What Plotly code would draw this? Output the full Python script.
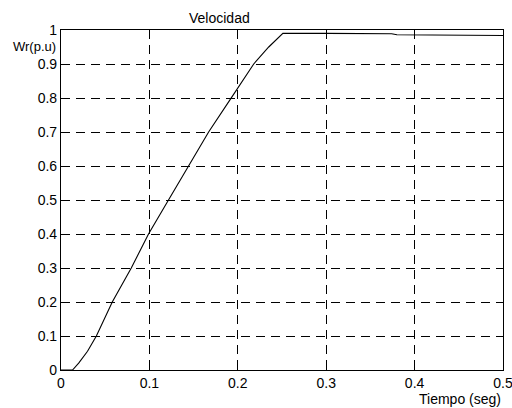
import plotly.graph_objects as go

# Data
tiempo = [0.0, 0.013, 0.02, 0.03, 0.04, 0.058, 0.0795, 0.099, 0.1216, 0.144, 0.167, 0.19, 0.2,
          0.218, 0.235, 0.251, 0.30, 0.374, 0.38, 0.45, 0.5]
velocidad = [0.0, 0.0, 0.02, 0.055, 0.1, 0.2, 0.3, 0.4, 0.5, 0.6, 0.7, 0.79, 0.83,
             0.9, 0.95, 0.99, 0.99, 0.989, 0.986, 0.985, 0.984]
x_ticks = [0, 0.1, 0.2, 0.3, 0.4, 0.5]
x_tick_labels = ["0", "0.1", "0.2", "0.3", "0.4", "0.5"]
y_ticks = [0, 0.1, 0.2, 0.3, 0.4, 0.5, 0.6, 0.7, 0.8, 0.9, 1]
y_tick_labels = ["0", "0.1", "0.2", "0.3", "0.4", "0.5", "0.6", "0.7", "0.8", "0.9", "1"]

font = "Liberation Sans, Arial, sans-serif"

fig = go.Figure()
fig.add_trace(go.Scatter(x=tiempo, y=velocidad, mode="lines",
                         line=dict(color="black", width=1.1), showlegend=False))

axis_common = dict(
    showline=True, linecolor="black", linewidth=1.2, mirror="allticks",
    ticks="inside", ticklen=5, tickcolor="black",
    showgrid=True, gridcolor="black", gridwidth=1, griddash="9px,6px",
    zeroline=False, tickfont=dict(family=font, size=14, color="black"),
    ticklabeloverflow="allow", automargin=False,
)

fig.update_xaxes(range=[0, 0.5], tickvals=x_ticks, ticktext=x_tick_labels, **axis_common)
fig.update_yaxes(range=[0, 1], tickvals=y_ticks, ticktext=y_tick_labels, **axis_common)

fig.update_layout(
    width=512, height=408,
    margin=dict(l=61, r=9, t=30, b=38, autoexpand=False),
    paper_bgcolor="white", plot_bgcolor="white",
    font=dict(family=font, color="black"),
    annotations=[
        dict(text="Velocidad", xref="paper", yref="paper", x=(219 - 61) / 442, y=1,
             xanchor="center", yanchor="bottom", yshift=2, showarrow=False,
             font=dict(family=font, size=14, color="black")),
        dict(text="Wr(p.u)", xref="paper", yref="paper", x=0, y=(370 - 46) / 340.5,
             xanchor="right", yanchor="middle", xshift=-3, showarrow=False,
             font=dict(family=font, size=13, color="black")),
        dict(text="Tiempo (seg)", xref="paper", yref="paper", x=1, y=(370 - 399) / 340.5,
             xanchor="right", yanchor="middle", showarrow=False,
             font=dict(family=font, size=14, color="black")),
    ],
)

fig.write_html("out.html")
